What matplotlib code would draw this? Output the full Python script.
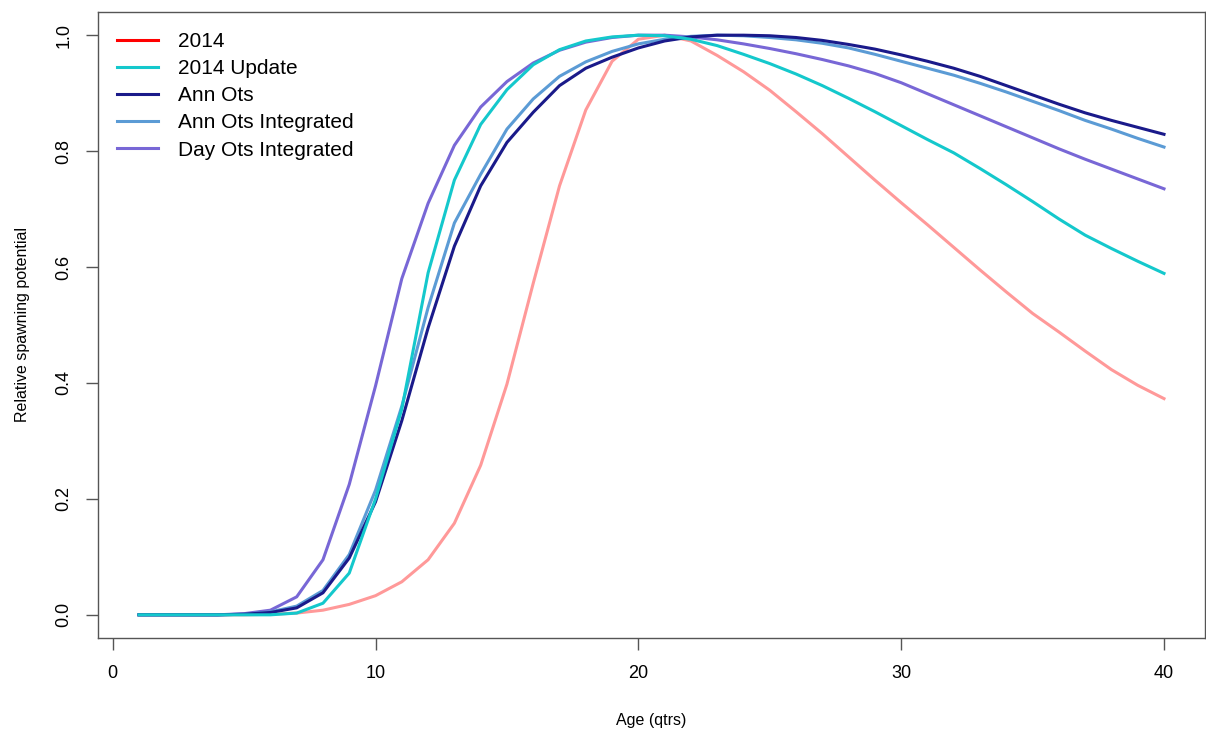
import numpy as np
import matplotlib.pyplot as plt
from matplotlib.lines import Line2D

plt.rcParams["font.family"] = ["Liberation Sans", "DejaVu Sans"]

ages = np.arange(1, 41)

spawn_2014 = [0, 0, 0, 0, 0, 0.001, 0.003, 0.008, 0.018, 0.033,
              0.057, 0.095, 0.158, 0.258, 0.398, 0.572, 0.74, 0.871, 0.955, 0.993,
              1.0, 0.99, 0.965, 0.937, 0.905, 0.868, 0.83, 0.79, 0.75, 0.711,
              0.673, 0.634, 0.595, 0.557, 0.52, 0.488, 0.455, 0.423, 0.396, 0.373]
update_2014 = [0, 0, 0, 0, 0, 0.0, 0.003, 0.02, 0.072, 0.2,
               0.355, 0.59, 0.75, 0.846, 0.906, 0.949, 0.975, 0.99, 0.997, 1.0,
               0.999, 0.993, 0.982, 0.967, 0.951, 0.933, 0.913, 0.891, 0.868, 0.844,
               0.82, 0.797, 0.77, 0.742, 0.713, 0.683, 0.655, 0.632, 0.61, 0.589]
ann_ots = [0, 0, 0, 0, 0.001, 0.004, 0.012, 0.038, 0.098, 0.195,
           0.335, 0.495, 0.636, 0.74, 0.815, 0.867, 0.913, 0.943, 0.962, 0.978,
           0.99, 0.997, 1.0, 1.0, 0.999, 0.996, 0.991, 0.984, 0.976, 0.966,
           0.955, 0.943, 0.929, 0.913, 0.897, 0.881, 0.866, 0.853, 0.841, 0.829]
ann_ots_int = [0, 0, 0, 0, 0.001, 0.005, 0.015, 0.042, 0.104, 0.215,
               0.36, 0.53, 0.676, 0.76, 0.838, 0.89, 0.929, 0.954, 0.972, 0.985,
               0.993, 0.998, 1.0, 0.999, 0.996, 0.992, 0.986, 0.978, 0.967, 0.955,
               0.943, 0.931, 0.917, 0.902, 0.886, 0.87, 0.853, 0.838, 0.822, 0.807]
day_ots_int = [0, 0, 0, 0, 0.002, 0.008, 0.031, 0.095, 0.225, 0.395,
               0.58, 0.71, 0.81, 0.876, 0.92, 0.952, 0.974, 0.988, 0.996, 1.0,
               1.0, 0.997, 0.992, 0.985, 0.977, 0.968, 0.958, 0.947, 0.934, 0.918,
               0.899, 0.88, 0.861, 0.842, 0.823, 0.804, 0.786, 0.769, 0.752, 0.735]

labels = ["2014", "2014 Update", "Ann Ots", "Ann Ots Integrated", "Day Ots Integrated"]
colors = ["#ff0000", "#14c8cc", "#1a1a8a", "#5b9bd5", "#7867d6"]

fig = plt.figure(figsize=(12.06, 7.32), dpi=100)
ax = fig.add_axes([98 / 1206, 1 - 638 / 732, 1107 / 1206, (638 - 12) / 732])

lw = 2.2
ax.plot(ages, spawn_2014, color=colors[0], alpha=0.4, lw=lw)
ax.plot(ages, day_ots_int, color=colors[4], lw=lw)
ax.plot(ages, ann_ots_int, color=colors[3], lw=lw)
ax.plot(ages, ann_ots, color=colors[2], lw=lw)
ax.plot(ages, update_2014, color=colors[1], lw=lw)

ax.set_xlim(1 - 0.04 * 39, 40 + 0.04 * 39)
ax.set_ylim(-0.04, 1.04)
ax.set_xticks([0, 10, 20, 30, 40])
ax.set_yticks([0.0, 0.2, 0.4, 0.6, 0.8, 1.0])
ax.set_yticklabels(["0.0", "0.2", "0.4", "0.6", "0.8", "1.0"], rotation=90, va="center")
ax.tick_params(length=8.5, width=1, color="#555555", labelsize=13, pad=10)
ax.tick_params(axis="x", pad=11)
for s in ax.spines.values():
    s.set_color("#555555")
    s.set_linewidth(1)

ax.set_xlabel("Age (qtrs)", fontsize=11.5, labelpad=22)
ax.set_ylabel("Relative spawning potential", fontsize=11.5, labelpad=18)

handles = [Line2D([], [], color=c, lw=lw) for c in colors]
fig.legend(handles, labels, loc="upper left", bbox_to_anchor=(117 / 1206, 1 - 32 / 732),
           frameon=False, fontsize=15, borderpad=0, borderaxespad=0,
           handlelength=1.97, handletextpad=0.96, labelspacing=0.39)

fig.savefig("out.png", dpi=100)
